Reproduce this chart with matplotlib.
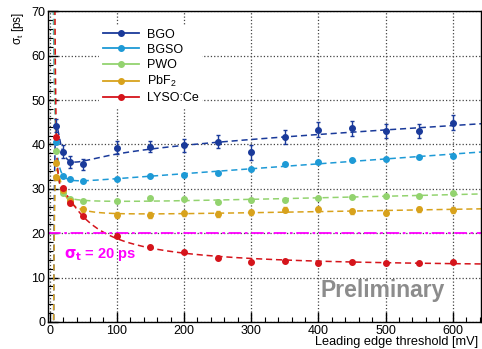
import numpy as np
import matplotlib
matplotlib.use('Agg')
import matplotlib.pyplot as plt
from matplotlib.lines import Line2D
from matplotlib.ticker import MultipleLocator

plt.rcParams['font.family'] = ['Liberation Sans', 'DejaVu Sans']
plt.rcParams['mathtext.fontset'] = 'custom'
plt.rcParams['mathtext.rm'] = 'Liberation Sans'
plt.rcParams['mathtext.it'] = 'Liberation Sans'

# Данные (порог в мВ, разрешение в пс)
thr = [10, 20, 30, 50, 100, 150, 200, 250, 300, 350, 400, 450, 500, 550, 600]

bgo = [44.2, 38.4, 36.1, 35.5, 39.3, 39.5, 39.8, 40.6, 38.2, 41.7, 43.3, 43.6, 43.1, 43.0, 44.9]
bgo_err = [1.5, 1.4, 1.3, 1.3, 1.4, 1.3, 1.4, 1.5, 1.6, 1.6, 1.7, 1.6, 1.6, 1.6, 1.7]

bgso = [40.6, 32.9, 32.3, 31.7, 32.2, 33.0, 33.1, 33.6, 34.4, 35.6, 36.1, 36.5, 36.7, 37.1, 37.5]
pwo = [38.6, 29.0, 27.8, 27.3, 27.2, 27.9, 27.6, 27.0, 27.4, 27.5, 27.9, 28.2, 28.3, 28.5, 29.0]

pbf2_thr = [10, 10, 20, 30, 50, 100, 150, 200, 250, 300, 350, 400, 450, 500, 550, 600]
pbf2 = [35.9, 32.6, 29.7, 27.2, 25.4, 24.1, 24.1, 24.5, 24.3, 24.7, 25.3, 25.4, 24.9, 24.6, 25.4, 25.2]

lyso = [41.7, 30.1, 26.9, 23.9, 19.4, 16.95, 15.8, 14.5, 13.6, 13.8, 13.4, 13.5, 13.4, 13.3, 13.6]

names = ['BGO', 'BGSO', 'PWO', 'PbF$_{2}$', 'LYSO:Ce']
colors = ['#1a3a9a', '#1e9ad6', '#93d36f', '#d8a21c', '#d5141b']


def fit_curve(x, y, xf):
    # простая подгонка: константа + линейный член + обратные степени
    x = np.asarray(x, float)
    y = np.asarray(y, float)
    basis = lambda t: np.column_stack([np.ones_like(t), t, 1 / t, 1 / t**2, 1 / t**3])
    coef, *_ = np.linalg.lstsq(basis(x), y, rcond=None)
    return basis(xf) @ coef


fig = plt.figure(figsize=(4.82, 3.49), dpi=100)
ax = fig.add_axes([48 / 482, 1 - 322 / 349, 433 / 482, 310.7 / 349])

series = [(thr, bgo, bgo_err), (thr, bgso, None), (thr, pwo, None),
          (pbf2_thr, pbf2, [0.6] * len(pbf2)), (thr, lyso, None)]

xf = np.linspace(2.5, 645, 1500)
for (x, y, e), c in zip(series, colors):
    yf = fit_curve(x, y, xf)
    ax.plot(xf, yf, color=c, lw=1.1, dashes=(4, 2.5), zorder=2)
    ax.errorbar(x, y, yerr=e, fmt='o', color=c, ms=4, elinewidth=1,
                capsize=1.5, capthick=1, zorder=3)

ax.axhline(20, color='#ff00ff', lw=1.3, dashes=(7, 2, 1.5, 2), zorder=2)
ax.text(21, 15.2, r'$\mathbf{\sigma_{t}}$ = 20 ps', color='#ff00ff', fontsize=10.5,
        fontweight='bold', va='center', ha='left')
ax.text(588, 7.2, 'Preliminary', color='#8c8c8c', fontsize=16.5,
        fontweight='bold', va='center', ha='right')

ax.set_xlim(-2.5, 642)
ax.set_ylim(0, 70)
ax.xaxis.set_major_locator(MultipleLocator(100))
ax.xaxis.set_minor_locator(MultipleLocator(20))
ax.yaxis.set_major_locator(MultipleLocator(10))
ax.yaxis.set_minor_locator(MultipleLocator(2))
ax.tick_params(which='both', direction='in', labelsize=9, colors='black')
ax.tick_params(which='major', length=7, width=1)
ax.tick_params(which='minor', length=3.5, width=0.8)
ax.tick_params(axis='x', pad=2.5)
ax.tick_params(axis='y', pad=2)
ax.grid(True, which='major', ls=':', color='#444444', lw=0.9)
for s in ax.spines.values():
    s.set_linewidth(1)

fig.text(478 / 482, 1 - 342.5 / 349, 'Leading edge threshold [mV]', fontsize=9.2,
         ha='right', va='center')
ax.set_ylabel(r'$\sigma_{t}$ [ps]', fontsize=8.5, loc='top', labelpad=4)

handles = [Line2D([], [], color=c, marker='o', ms=4, lw=1.3) for c in colors]
leg = ax.legend(handles, names, loc='upper left', bbox_to_anchor=(0.118, 0.956),
                fontsize=9, frameon=True, fancybox=False, edgecolor='none',
                framealpha=1, handlelength=2.9, handletextpad=0.6,
                labelspacing=0.25, borderpad=0.3, borderaxespad=0)
leg.set_zorder(5)

fig.savefig('out.png', dpi=100)
